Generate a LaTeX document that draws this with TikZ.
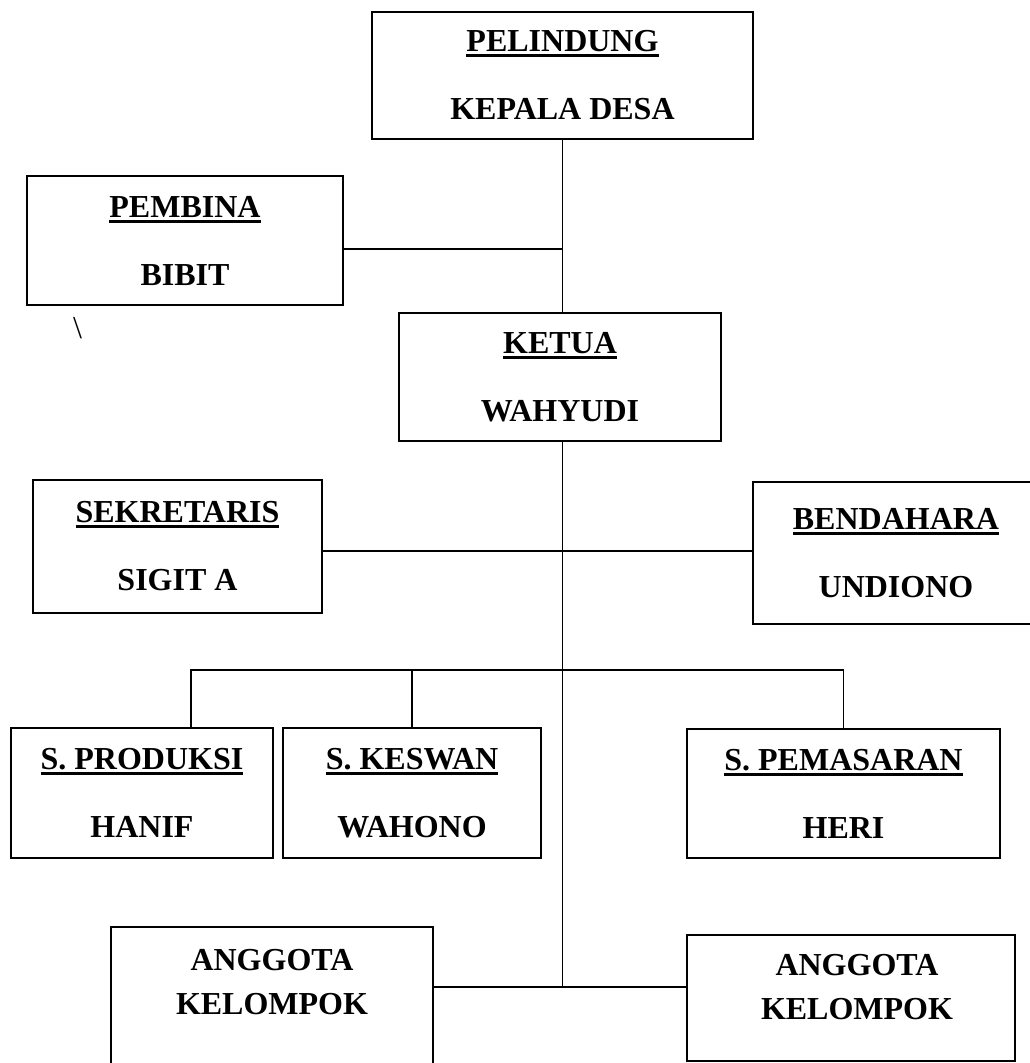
\documentclass[tikz,border=0pt]{standalone}
\usepackage{fontspec}
\setmainfont{Liberation Serif}
\usetikzlibrary{positioning}
\newsavebox{\kotakjudul}
\newcommand{\judul}[1]{\leavevmode\sbox{\kotakjudul}{#1}\rlap{\usebox{\kotakjudul}}\rule[-5.5pt]{\wd\kotakjudul}{3pt}}

\begin{document}
\begin{tikzpicture}[x=1pt,y=-1pt,line width=1.5pt,
	jabatan/.style={draw,rectangle,align=center,inner sep=0pt,font=\bfseries\fontsize{32}{68}\selectfont},
	anggota/.style={align=center,inner sep=0pt,font=\bfseries\fontsize{32}{44}\selectfont}]
	\useasboundingbox (0,0) rectangle (1029,1063);
	\node[jabatan,minimum width=381pt,minimum height=127pt] (pel) at (562.5,75.5) {\judul{PELINDUNG}\\KEPALA DESA};
	\node[jabatan,minimum width=316pt,minimum height=129pt] (pem) at (185,240.5) {\judul{PEMBINA}\\BIBIT};
	\node[jabatan,minimum width=322pt,minimum height=128pt] (ket) at (560,377) {\judul{KETUA}\\WAHYUDI};
	\node[jabatan,minimum width=289pt,minimum height=133pt] (sek) at (177.5,546.5) {\judul{SEKRETARIS}\\SIGIT A};
	\node[jabatan,minimum width=286pt,minimum height=142pt] (ben) at (896,553) {\judul{BENDAHARA}\\UNDIONO};
	\node[jabatan,minimum width=262pt,minimum height=130pt] (pro) at (142,793) {\judul{S. PRODUKSI}\\HANIF};
	\node[jabatan,minimum width=258pt,minimum height=130pt] (kes) at (412,793) {\judul{S. KESWAN}\\WAHONO};
	\node[jabatan,minimum width=313pt,minimum height=129pt] (pms) at (843.5,793.5) {\judul{S. PEMASARAN}\\HERI};
	\node[draw,rectangle,minimum width=322pt,minimum height=139pt] (agl) at (272,996.5) {};
	\node[draw,rectangle,minimum width=328pt,minimum height=126pt] (agr) at (851,998) {};
	\node[anggota,below=22pt of agl.north] (agltxt) {ANGGOTA\\KELOMPOK};
	\node[anggota,below=19pt of agr.north,xshift=6pt] (agrtxt) {ANGGOTA\\KELOMPOK};
	\node (miring) at (77.5,328) {\fontsize{32}{32}\selectfont\textbackslash};
	\coordinate (jpem) at (562.5,249);
	\coordinate (jsek) at (562.5,551);
	\coordinate (jsie) at (562.5,670);
	\coordinate (dpro) at (191,670);
	\coordinate (jagt) at (562.5,987);
	\draw (pel.south) -- (pel.south |- ket.north);
	\draw (jpem -| pem.east) -- (jpem);
	\draw (ket.south -| pel.south) -- (jagt);
	\draw (jsek -| sek.east) -- (jsek -| ben.west);
	\draw (dpro |- pro.north) -- (dpro) -- (jsie -| pms.north) -- (pms.north);
	\draw (jsie -| kes.north) -- (kes.north);
	\draw (jagt -| agl.east) -- (jagt -| agr.west);
\end{tikzpicture}
\end{document}
